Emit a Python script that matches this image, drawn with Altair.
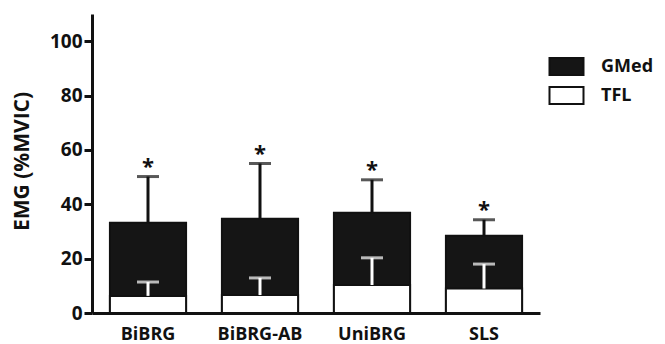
import altair as alt
import pandas as pd

groups = ["BiBRG", "BiBRG-AB", "UniBRG", "SLS"]
gmed_mean = [33.2, 34.7, 36.9, 28.4]
gmed_sd = [17.0, 20.3, 12.1, 5.9]
tfl_mean = [6.3, 6.6, 10.3, 9.0]
tfl_sd = [5.1, 6.3, 10.0, 9.0]
muscles = ["GMed", "TFL"]
y_ticks = [0, 20, 40, 60, 80, 100]

rows = []
for g, m, s in zip(groups, gmed_mean, gmed_sd):
    rows.append({"group": g, "muscle": "GMed", "value": m, "upper": m + s})
for g, m, s in zip(groups, tfl_mean, tfl_sd):
    rows.append({"group": g, "muscle": "TFL", "value": m, "upper": m + s})
df = pd.DataFrame(rows)
df_g = df[df.muscle == "GMed"].copy()
df_g["star"] = "*"
df_t = df[df.muscle == "TFL"]

FONT = "Open Sans"

x = alt.X("group:N", sort=groups, title=None,
          scale=alt.Scale(paddingInner=0.32, paddingOuter=0.16),
          axis=alt.Axis(labelAngle=0, ticks=False, labelPadding=12, labelFontSize=18,
                        labelFont=FONT, labelFontWeight="bold", labelColor="#111",
                        domainColor="#111", domainWidth=3))
yscale = alt.Scale(domain=[0, 110], nice=False)
y = alt.Y("value:Q", scale=yscale, title="EMG (%MVIC)", stack=None,
          axis=alt.Axis(values=y_ticks, grid=False, tickSize=8, tickWidth=3, tickColor="#111",
                        domainColor="#111", domainWidth=3, labelFontSize=19, labelFont=FONT,
                        labelFontWeight="bold", labelColor="#111", labelPadding=2,
                        titleFont=FONT, titleFontSize=21, titleFontWeight="bold",
                        titleColor="#111", titleX=-60, titleY=147))

bars = alt.Chart(df).mark_bar(stroke="#111", strokeWidth=2).encode(
    x=x, y=y,
    fill=alt.Fill("muscle:N", scale=alt.Scale(domain=muscles, range=["#151515", "white"]),
                  legend=alt.Legend(title=None, orient="none", legendX=465, legendY=43,
                                    symbolType="M-2,-1H2V1H-2Z", symbolSize=289,
                                    symbolStrokeColor="#111", symbolStrokeWidth=2,
                                    labelFont=FONT, labelFontSize=18, labelFontWeight="bold",
                                    labelColor="#111", labelOffset=25, rowPadding=4,
                                    padding=0)),
)

def errs(d, color):
    rule = alt.Chart(d).mark_rule(color=color, strokeWidth=3).encode(
        x=alt.X("group:N", sort=groups), y=alt.Y("value:Q", scale=yscale), y2="upper:Q")
    cap = alt.Chart(d).mark_tick(color=color, size=22, thickness=3).encode(
        x=alt.X("group:N", sort=groups), y=alt.Y("upper:Q", scale=yscale))
    return rule + cap

stars = alt.Chart(df_g).mark_text(font=FONT, fontSize=22, fontWeight="bold", color="#111",
                                  baseline="alphabetic", dy=-3).encode(
    x=alt.X("group:N", sort=groups), y=alt.Y("upper:Q", scale=yscale), text="star:N")

chart = (bars + errs(df_g, "#111") + errs(df_t, "white") + stars).properties(
    width=448, height=299,
    autosize=alt.AutoSizeParams(type="none"),
    padding={"left": 84, "top": 6, "right": 117, "bottom": 30},
).configure_view(stroke=None)

chart.save("out.html", embed_options={"renderer": "svg", "actions": False})
